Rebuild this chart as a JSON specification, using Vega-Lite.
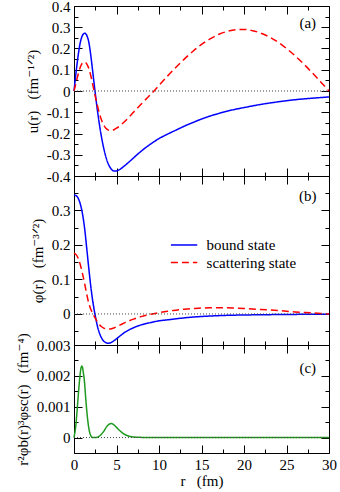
{
  "$schema": "https://vega.github.io/schema/vega-lite/v6.json",
  "padding": {"left": 14, "top": -2, "right": 0, "bottom": 0},
  "background": "white",
  "bounds": "flush",
  "datasets": {
    "a": [
      {"r":0,"v":0,"s":"bound state"},{"r":0.25,"v":0.09,"s":"bound state"},{"r":0.5,"v":0.17,"s":"bound state"},{"r":0.75,"v":0.23,"s":"bound state"},{"r":1.0,"v":0.262,"s":"bound state"},{"r":1.25,"v":0.272,"s":"bound state"},{"r":1.5,"v":0.262,"s":"bound state"},{"r":1.75,"v":0.228,"s":"bound state"},{"r":2.0,"v":0.16,"s":"bound state"},{"r":2.25,"v":0.075,"s":"bound state"},{"r":2.5,"v":-0.01,"s":"bound state"},{"r":2.75,"v":-0.09,"s":"bound state"},{"r":3.0,"v":-0.16,"s":"bound state"},{"r":3.25,"v":-0.22,"s":"bound state"},{"r":3.5,"v":-0.27,"s":"bound state"},{"r":3.75,"v":-0.31,"s":"bound state"},{"r":4.0,"v":-0.34,"s":"bound state"},{"r":4.25,"v":-0.36,"s":"bound state"},{"r":4.5,"v":-0.372,"s":"bound state"},{"r":4.75,"v":-0.377,"s":"bound state"},{"r":5.0,"v":-0.376,"s":"bound state"},{"r":5.5,"v":-0.366,"s":"bound state"},{"r":6,"v":-0.35,"s":"bound state"},{"r":6.5,"v":-0.333,"s":"bound state"},{"r":7,"v":-0.315,"s":"bound state"},{"r":7.5,"v":-0.297,"s":"bound state"},{"r":8,"v":-0.28,"s":"bound state"},{"r":9,"v":-0.25,"s":"bound state"},{"r":10,"v":-0.224,"s":"bound state"},{"r":11,"v":-0.203,"s":"bound state"},{"r":12,"v":-0.184,"s":"bound state"},{"r":13,"v":-0.165,"s":"bound state"},{"r":14,"v":-0.148,"s":"bound state"},{"r":15,"v":-0.132,"s":"bound state"},{"r":16,"v":-0.118,"s":"bound state"},{"r":17,"v":-0.106,"s":"bound state"},{"r":18,"v":-0.095,"s":"bound state"},{"r":19,"v":-0.086,"s":"bound state"},{"r":20,"v":-0.078,"s":"bound state"},{"r":22,"v":-0.063,"s":"bound state"},{"r":24,"v":-0.051,"s":"bound state"},{"r":26,"v":-0.041,"s":"bound state"},{"r":28,"v":-0.034,"s":"bound state"},{"r":30,"v":-0.028,"s":"bound state"},
      {"r":0,"v":0,"s":"scattering state"},{"r":0.25,"v":0.04,"s":"scattering state"},{"r":0.5,"v":0.08,"s":"scattering state"},{"r":0.75,"v":0.113,"s":"scattering state"},{"r":1.0,"v":0.132,"s":"scattering state"},{"r":1.25,"v":0.137,"s":"scattering state"},{"r":1.5,"v":0.128,"s":"scattering state"},{"r":1.75,"v":0.105,"s":"scattering state"},{"r":2.0,"v":0.068,"s":"scattering state"},{"r":2.25,"v":0.022,"s":"scattering state"},{"r":2.5,"v":-0.025,"s":"scattering state"},{"r":2.75,"v":-0.068,"s":"scattering state"},{"r":3.0,"v":-0.107,"s":"scattering state"},{"r":3.25,"v":-0.138,"s":"scattering state"},{"r":3.5,"v":-0.16,"s":"scattering state"},{"r":3.75,"v":-0.175,"s":"scattering state"},{"r":4.0,"v":-0.183,"s":"scattering state"},{"r":4.25,"v":-0.186,"s":"scattering state"},{"r":4.5,"v":-0.185,"s":"scattering state"},{"r":4.75,"v":-0.181,"s":"scattering state"},{"r":5.0,"v":-0.175,"s":"scattering state"},{"r":5.5,"v":-0.16,"s":"scattering state"},{"r":6,"v":-0.142,"s":"scattering state"},{"r":6.5,"v":-0.122,"s":"scattering state"},{"r":7,"v":-0.1,"s":"scattering state"},{"r":7.5,"v":-0.079,"s":"scattering state"},{"r":8,"v":-0.058,"s":"scattering state"},{"r":8.5,"v":-0.037,"s":"scattering state"},{"r":9,"v":-0.017,"s":"scattering state"},{"r":9.5,"v":0.004,"s":"scattering state"},{"r":10,"v":0.026,"s":"scattering state"},{"r":11,"v":0.07,"s":"scattering state"},{"r":12,"v":0.112,"s":"scattering state"},{"r":13,"v":0.151,"s":"scattering state"},{"r":14,"v":0.187,"s":"scattering state"},{"r":15,"v":0.219,"s":"scattering state"},{"r":16,"v":0.245,"s":"scattering state"},{"r":17,"v":0.266,"s":"scattering state"},{"r":18,"v":0.28,"s":"scattering state"},{"r":19,"v":0.288,"s":"scattering state"},{"r":20,"v":0.29,"s":"scattering state"},{"r":21,"v":0.284,"s":"scattering state"},{"r":22,"v":0.272,"s":"scattering state"},{"r":23,"v":0.254,"s":"scattering state"},{"r":24,"v":0.23,"s":"scattering state"},{"r":25,"v":0.2,"s":"scattering state"},{"r":26,"v":0.166,"s":"scattering state"},{"r":27,"v":0.128,"s":"scattering state"},{"r":28,"v":0.087,"s":"scattering state"},{"r":29,"v":0.044,"s":"scattering state"},{"r":30,"v":0.0,"s":"scattering state"}
    ],
    "b": [
      {"r":0,"v":0.345,"s":"bound state"},{"r":0.25,"v":0.343,"s":"bound state"},{"r":0.5,"v":0.335,"s":"bound state"},{"r":0.75,"v":0.318,"s":"bound state"},{"r":1.0,"v":0.29,"s":"bound state"},{"r":1.25,"v":0.248,"s":"bound state"},{"r":1.5,"v":0.19,"s":"bound state"},{"r":1.75,"v":0.13,"s":"bound state"},{"r":2.0,"v":0.075,"s":"bound state"},{"r":2.25,"v":0.03,"s":"bound state"},{"r":2.5,"v":-0.005,"s":"bound state"},{"r":2.75,"v":-0.035,"s":"bound state"},{"r":3.0,"v":-0.056,"s":"bound state"},{"r":3.25,"v":-0.07,"s":"bound state"},{"r":3.5,"v":-0.079,"s":"bound state"},{"r":3.75,"v":-0.083,"s":"bound state"},{"r":4.0,"v":-0.085,"s":"bound state"},{"r":4.25,"v":-0.084,"s":"bound state"},{"r":4.5,"v":-0.081,"s":"bound state"},{"r":5,"v":-0.072,"s":"bound state"},{"r":5.5,"v":-0.062,"s":"bound state"},{"r":6,"v":-0.053,"s":"bound state"},{"r":7,"v":-0.04,"s":"bound state"},{"r":8,"v":-0.031,"s":"bound state"},{"r":9,"v":-0.025,"s":"bound state"},{"r":10,"v":-0.02,"s":"bound state"},{"r":11,"v":-0.017,"s":"bound state"},{"r":12,"v":-0.014,"s":"bound state"},{"r":14,"v":-0.009,"s":"bound state"},{"r":16,"v":-0.006,"s":"bound state"},{"r":18,"v":-0.004,"s":"bound state"},{"r":20,"v":-0.003,"s":"bound state"},{"r":25,"v":-0.0015,"s":"bound state"},{"r":30,"v":-0.0005,"s":"bound state"},
      {"r":0,"v":0.176,"s":"scattering state"},{"r":0.25,"v":0.172,"s":"scattering state"},{"r":0.5,"v":0.161,"s":"scattering state"},{"r":0.75,"v":0.142,"s":"scattering state"},{"r":1.0,"v":0.117,"s":"scattering state"},{"r":1.25,"v":0.088,"s":"scattering state"},{"r":1.5,"v":0.057,"s":"scattering state"},{"r":1.75,"v":0.03,"s":"scattering state"},{"r":2.0,"v":0.012,"s":"scattering state"},{"r":2.25,"v":0.0,"s":"scattering state"},{"r":2.5,"v":-0.012,"s":"scattering state"},{"r":2.75,"v":-0.023,"s":"scattering state"},{"r":3.0,"v":-0.031,"s":"scattering state"},{"r":3.25,"v":-0.037,"s":"scattering state"},{"r":3.5,"v":-0.041,"s":"scattering state"},{"r":3.75,"v":-0.043,"s":"scattering state"},{"r":4.0,"v":-0.044,"s":"scattering state"},{"r":4.5,"v":-0.042,"s":"scattering state"},{"r":5,"v":-0.037,"s":"scattering state"},{"r":5.5,"v":-0.031,"s":"scattering state"},{"r":6,"v":-0.025,"s":"scattering state"},{"r":7,"v":-0.015,"s":"scattering state"},{"r":8,"v":-0.007,"s":"scattering state"},{"r":9,"v":-0.001,"s":"scattering state"},{"r":10,"v":0.004,"s":"scattering state"},{"r":11,"v":0.008,"s":"scattering state"},{"r":12,"v":0.011,"s":"scattering state"},{"r":13,"v":0.014,"s":"scattering state"},{"r":14,"v":0.016,"s":"scattering state"},{"r":15,"v":0.017,"s":"scattering state"},{"r":16,"v":0.018,"s":"scattering state"},{"r":17,"v":0.018,"s":"scattering state"},{"r":18,"v":0.018,"s":"scattering state"},{"r":19,"v":0.017,"s":"scattering state"},{"r":20,"v":0.016,"s":"scattering state"},{"r":22,"v":0.013,"s":"scattering state"},{"r":24,"v":0.01,"s":"scattering state"},{"r":26,"v":0.006,"s":"scattering state"},{"r":28,"v":0.003,"s":"scattering state"},{"r":30,"v":0.0,"s":"scattering state"}
    ],
    "c": [
      {"r":0,"v":0},{"r":0.2,"v":0.00035},{"r":0.4,"v":0.001},{"r":0.6,"v":0.0017},{"r":0.8,"v":0.00222},{"r":0.9,"v":0.00232},{"r":1.0,"v":0.00228},{"r":1.1,"v":0.0021},{"r":1.2,"v":0.0019},{"r":1.4,"v":0.0012},{"r":1.6,"v":0.0006},{"r":1.8,"v":0.00022},{"r":2.0,"v":0.00005},{"r":2.2,"v":0.0},{"r":2.6,"v":0.0},{"r":2.9,"v":0.00003},{"r":3.2,"v":0.0001},{"r":3.5,"v":0.0002},{"r":3.8,"v":0.00034},{"r":4.1,"v":0.00043},{"r":4.4,"v":0.00046},{"r":4.7,"v":0.00041},{"r":5.0,"v":0.00033},{"r":5.4,"v":0.00022},{"r":5.8,"v":0.00013},{"r":6.3,"v":0.00006},{"r":7,"v":0.00002},{"r":8,"v":0.000005},{"r":9,"v":0},{"r":30,"v":0}
    ]
  },
  "vconcat": [
    {
      "width": 255, "height": 170,
      "layer": [
        {
          "data": {"name": "a"},
          "mark": {"type": "line", "strokeWidth": 1.5, "interpolate": "monotone"},
          "encoding": {
            "x": {"field": "r", "type": "quantitative", "scale": {"domain": [0, 30], "nice": false, "zero": false},
                  "axis": {"orient": "bottom", "values": [0,5,10,15,20,25,30], "tickSize": -8, "labels": false, "title": null}},
            "y": {"field": "v", "type": "quantitative", "scale": {"domain": [-0.4, 0.4], "nice": false, "zero": false},
                  "axis": {"orient": "left", "values": [-0.4,-0.3,-0.2,-0.1,0,0.1,0.2,0.3,0.4], "tickSize": -8, "labelPadding": 12, "labelExpr": "'' + datum.value", "labelOverlap": false, "title": "u(r)\u00a0\u00a0\u00a0(fm⁻¹ᐟ²)", "titlePadding": 6}},
            "color": {"field": "s", "type": "nominal", "scale": {"domain": ["bound state", "scattering state"], "range": ["#0000ff", "#ff0000"]}, "legend": null},
            "strokeDash": {"field": "s", "type": "nominal", "scale": {"domain": ["bound state", "scattering state"], "range": [[1, 0], [7, 4]]}, "legend": null}
          }
        },
        {
          "data": {"values": [{}]},
          "mark": {"type": "rule", "strokeDash": [1, 2], "color": "#444", "strokeWidth": 1},
          "encoding": {
            "x": {"datum": 0, "type": "quantitative", "scale": {"domain": [0, 30], "nice": false, "zero": false},
                  "axis": {"orient": "top", "values": [0,5,10,15,20,25,30], "tickSize": -8, "labels": false, "title": null}},
            "x2": {"datum": 30},
            "y": {"datum": 0, "type": "quantitative", "scale": {"domain": [-0.4, 0.4], "nice": false, "zero": false},
                  "axis": {"orient": "right", "values": [-0.4,-0.3,-0.2,-0.1,0,0.1,0.2,0.3,0.4], "tickSize": -8, "labels": false, "title": null}}
          }
        },
        {
          "data": {"values": [{}]},
          "mark": {"type": "text", "fontSize": 15, "color": "#000"},
          "encoding": {
            "x": {"datum": 27.5, "type": "quantitative", "scale": {"domain": [0, 30], "nice": false, "zero": false},
                  "axis": {"orient": "bottom", "values": [2.5,7.5,12.5,17.5,22.5,27.5], "tickSize": -4, "labels": false, "title": null}},
            "y": {"datum": 0.32, "type": "quantitative", "scale": {"domain": [-0.4, 0.4], "nice": false, "zero": false},
                  "axis": {"orient": "left", "values": [-0.35,-0.25,-0.15,-0.05,0.05,0.15,0.25,0.35], "tickSize": -4, "labels": false, "title": null}},
            "text": {"value": "(a)"}
          }
        },
        {
          "data": {"values": [{}]},
          "mark": {"type": "text", "opacity": 0},
          "encoding": {
            "x": {"datum": 27.5, "type": "quantitative", "scale": {"domain": [0, 30], "nice": false, "zero": false},
                  "axis": {"orient": "top", "values": [2.5,7.5,12.5,17.5,22.5,27.5], "tickSize": -4, "labels": false, "title": null}},
            "y": {"datum": 0.32, "type": "quantitative", "scale": {"domain": [-0.4, 0.4], "nice": false, "zero": false},
                  "axis": {"orient": "right", "values": [-0.35,-0.25,-0.15,-0.05,0.05,0.15,0.25,0.35], "tickSize": -4, "labels": false, "title": null}},
            "text": {"value": ""}
          }
        }
      ],
      "resolve": {"axis": {"x": "independent", "y": "independent"}}
    },
    {
      "width": 255, "height": 169,
      "layer": [
        {
          "data": {"name": "b"},
          "mark": {"type": "line", "strokeWidth": 1.5, "interpolate": "monotone"},
          "encoding": {
            "x": {"field": "r", "type": "quantitative", "scale": {"domain": [0, 30], "nice": false, "zero": false},
                  "axis": {"orient": "bottom", "values": [0,5,10,15,20,25,30], "tickSize": -8, "labels": false, "title": null}},
            "y": {"field": "v", "type": "quantitative", "scale": {"domain": [-0.09, 0.4], "nice": false, "zero": false},
                  "axis": {"orient": "left", "values": [0,0.1,0.2,0.3], "tickSize": -8, "labelPadding": 12, "labelExpr": "'' + datum.value", "labelOverlap": false, "title": "φ(r)\u00a0\u00a0\u00a0(fm⁻³ᐟ²)", "titlePadding": 6}},
            "color": {"field": "s", "type": "nominal", "scale": {"domain": ["bound state", "scattering state"], "range": ["#0000ff", "#ff0000"]}, "legend": null},
            "strokeDash": {"field": "s", "type": "nominal", "scale": {"domain": ["bound state", "scattering state"], "range": [[1, 0], [7, 4]]}, "legend": null}
          }
        },
        {
          "data": {"values": [{}]},
          "mark": {"type": "rule", "strokeDash": [1, 2], "color": "#444", "strokeWidth": 1},
          "encoding": {
            "x": {"datum": 0, "type": "quantitative", "scale": {"domain": [0, 30], "nice": false, "zero": false},
                  "axis": {"orient": "top", "values": [0,5,10,15,20,25,30], "tickSize": -8, "labels": false, "title": null}},
            "x2": {"datum": 30},
            "y": {"datum": 0, "type": "quantitative", "scale": {"domain": [-0.09, 0.4], "nice": false, "zero": false},
                  "axis": {"orient": "right", "values": [0,0.1,0.2,0.3], "tickSize": -8, "labels": false, "title": null}}
          }
        },
        {
          "data": {"values": [{}]},
          "mark": {"type": "text", "fontSize": 15, "color": "#000"},
          "encoding": {
            "x": {"datum": 27.5, "type": "quantitative", "scale": {"domain": [0, 30], "nice": false, "zero": false},
                  "axis": {"orient": "bottom", "values": [2.5,7.5,12.5,17.5,22.5,27.5], "tickSize": -4, "labels": false, "title": null}},
            "y": {"datum": 0.341, "type": "quantitative", "scale": {"domain": [-0.09, 0.4], "nice": false, "zero": false},
                  "axis": {"orient": "left", "values": [-0.05,0.05,0.15,0.25,0.35], "tickSize": -4, "labels": false, "title": null}},
            "text": {"value": "(b)"}
          }
        },
        {
          "data": {"values": [{}]},
          "mark": {"type": "text", "opacity": 0},
          "encoding": {
            "x": {"datum": 27.5, "type": "quantitative", "scale": {"domain": [0, 30], "nice": false, "zero": false},
                  "axis": {"orient": "top", "values": [2.5,7.5,12.5,17.5,22.5,27.5], "tickSize": -4, "labels": false, "title": null}},
            "y": {"datum": 0.341, "type": "quantitative", "scale": {"domain": [-0.09, 0.4], "nice": false, "zero": false},
                  "axis": {"orient": "right", "values": [-0.05,0.05,0.15,0.25,0.35], "tickSize": -4, "labels": false, "title": null}},
            "text": {"value": ""}
          }
        },
        {
          "data": {"values": [{}]},
          "mark": {"type": "rule", "color": "#0000ff", "strokeWidth": 1.5},
          "encoding": {
            "x": {"datum": 11.4, "type": "quantitative", "scale": {"domain": [0, 30], "nice": false, "zero": false}, "axis": null},
            "x2": {"datum": 14.5},
            "y": {"datum": 0.2, "type": "quantitative", "scale": {"domain": [-0.09, 0.4], "nice": false, "zero": false}, "axis": null}
          }
        },
        {
          "data": {"values": [{}]},
          "mark": {"type": "rule", "color": "#ff0000", "strokeWidth": 1.5, "strokeDash": [7, 4]},
          "encoding": {
            "x": {"datum": 11.4, "type": "quantitative", "scale": {"domain": [0, 30], "nice": false, "zero": false}, "axis": null},
            "x2": {"datum": 14.5},
            "y": {"datum": 0.149, "type": "quantitative", "scale": {"domain": [-0.09, 0.4], "nice": false, "zero": false}, "axis": null}
          }
        },
        {
          "data": {"values": [{}]},
          "mark": {"type": "text", "fontSize": 15, "color": "#000", "align": "left", "baseline": "middle"},
          "encoding": {
            "x": {"datum": 15.6, "type": "quantitative", "scale": {"domain": [0, 30], "nice": false, "zero": false}, "axis": null},
            "y": {"datum": 0.2, "type": "quantitative", "scale": {"domain": [-0.09, 0.4], "nice": false, "zero": false}, "axis": null},
            "text": {"value": "bound state"}
          }
        },
        {
          "data": {"values": [{}]},
          "mark": {"type": "text", "fontSize": 15, "color": "#000", "align": "left", "baseline": "middle"},
          "encoding": {
            "x": {"datum": 15.6, "type": "quantitative", "scale": {"domain": [0, 30], "nice": false, "zero": false}, "axis": null},
            "y": {"datum": 0.149, "type": "quantitative", "scale": {"domain": [-0.09, 0.4], "nice": false, "zero": false}, "axis": null},
            "text": {"value": "scattering state"}
          }
        }
      ],
      "resolve": {"axis": {"x": "independent", "y": "independent"}}
    },
    {
      "width": 255, "height": 108,
      "layer": [
        {
          "data": {"name": "c"},
          "mark": {"type": "line", "strokeWidth": 1.5, "interpolate": "monotone", "color": "#1f9a1f"},
          "encoding": {
            "x": {"field": "r", "type": "quantitative", "scale": {"domain": [0, 30], "nice": false, "zero": false},
                  "axis": {"orient": "bottom", "values": [0,5,10,15,20,25,30], "tickSize": -8, "labelPadding": 12, "labelFlush": false, "labelOverlap": false, "labelExpr": "'' + datum.value", "title": "r\u00a0\u00a0\u00a0(fm)", "titlePadding": 1}},
            "y": {"field": "v", "type": "quantitative", "scale": {"domain": [-0.0005, 0.003], "nice": false, "zero": false},
                  "axis": {"orient": "left", "values": [0,0.001,0.002,0.003], "tickSize": -8, "labelPadding": 12, "labelExpr": "'' + datum.value", "labelOverlap": false, "title": "r²φb(r)³φsc(r)\u00a0\u00a0\u00a0(fm⁻⁴)", "titlePadding": 6}}
          }
        },
        {
          "data": {"values": [{}]},
          "mark": {"type": "rule", "strokeDash": [1, 2], "color": "#444", "strokeWidth": 1},
          "encoding": {
            "x": {"datum": 0, "type": "quantitative", "scale": {"domain": [0, 30], "nice": false, "zero": false},
                  "axis": {"orient": "top", "values": [0,5,10,15,20,25,30], "tickSize": -8, "labels": false, "title": null}},
            "x2": {"datum": 30},
            "y": {"datum": 0, "type": "quantitative", "scale": {"domain": [-0.0005, 0.003], "nice": false, "zero": false},
                  "axis": {"orient": "right", "values": [0,0.001,0.002,0.003], "tickSize": -8, "labels": false, "title": null}}
          }
        },
        {
          "data": {"values": [{}]},
          "mark": {"type": "text", "fontSize": 15, "color": "#000"},
          "encoding": {
            "x": {"datum": 27.5, "type": "quantitative", "scale": {"domain": [0, 30], "nice": false, "zero": false},
                  "axis": {"orient": "bottom", "values": [2.5,7.5,12.5,17.5,22.5,27.5], "tickSize": -4, "labels": false, "title": null}},
            "y": {"datum": 0.00224, "type": "quantitative", "scale": {"domain": [-0.0005, 0.003], "nice": false, "zero": false},
                  "axis": {"orient": "left", "values": [-0.0005,0.0005,0.0015,0.0025], "tickSize": -4, "labels": false, "title": null}},
            "text": {"value": "(c)"}
          }
        },
        {
          "data": {"values": [{}]},
          "mark": {"type": "text", "opacity": 0},
          "encoding": {
            "x": {"datum": 27.5, "type": "quantitative", "scale": {"domain": [0, 30], "nice": false, "zero": false},
                  "axis": {"orient": "top", "values": [2.5,7.5,12.5,17.5,22.5,27.5], "tickSize": -4, "labels": false, "title": null}},
            "y": {"datum": 0.00224, "type": "quantitative", "scale": {"domain": [-0.0005, 0.003], "nice": false, "zero": false},
                  "axis": {"orient": "right", "values": [-0.0005,0.0005,0.0015,0.0025], "tickSize": -4, "labels": false, "title": null}},
            "text": {"value": ""}
          }
        }
      ],
      "resolve": {"axis": {"x": "independent", "y": "independent"}}
    }
  ],
  "spacing": 0,
  "resolve": {"scale": {"x": "independent", "y": "independent", "color": "independent", "strokeDash": "independent"}, "axis": {"x": "independent", "y": "independent"}},
  "config": {
    "font": "Times New Roman, Liberation Serif, Nimbus Roman, DejaVu Serif, serif",
    "text": {"font": "Times New Roman, Liberation Serif, Nimbus Roman, DejaVu Serif, serif"},
    "view": {"stroke": "#000", "strokeWidth": 1},
    "axis": {"grid": false, "domain": false, "tickColor": "#000", "tickWidth": 1, "labelColor": "#000", "titleColor": "#000", "labelFontSize": 15, "titleFontSize": 15, "titleFontWeight": "normal", "labelFont": "Times New Roman, Liberation Serif, Nimbus Roman, DejaVu Serif, serif", "titleFont": "Times New Roman, Liberation Serif, Nimbus Roman, DejaVu Serif, serif"}
  }
}
